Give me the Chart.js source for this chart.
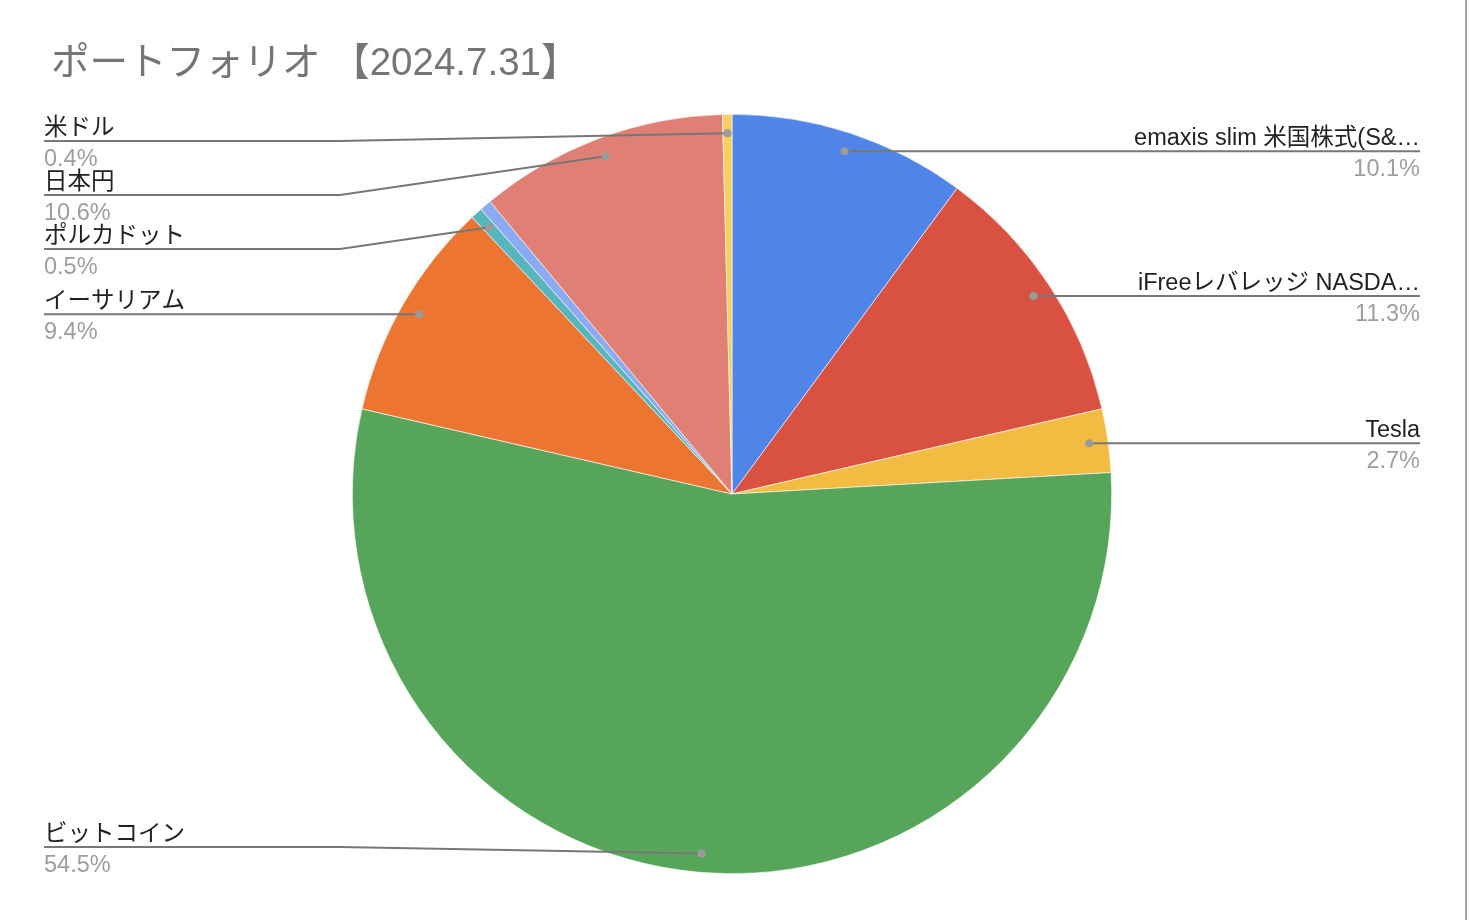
<!DOCTYPE html>
<html>
<head>
<meta charset="utf-8">
<script src="https://cdn.jsdelivr.net/npm/chart.js@4.4.1/dist/chart.umd.min.js"></script>
<style>
    html, body { margin: 0; padding: 0; background: #fff; }
    #wrap { position: relative; width: 1470px; height: 920px; overflow: hidden; }
    #edge { position: absolute; left: 1465px; top: 0; width: 2px; height: 920px; background: #a3a3a3; }
</style>
</head>
<body>
<div id="wrap">
    <canvas id="pieChart" width="1470" height="920" style="width:1470px;height:920px"></canvas>
    <div id="edge"></div>
</div>
<script>
// portfolio shares (%), clockwise from 12 o'clock
const chartTitle = "ポートフォリオ 【2024.7.31】";
const assetNames = [
    "emaxis slim 米国株式(S&…",
    "iFreeレバレッジ NASDA…",
    "Tesla",
    "ビットコイン",
    "イーサリアム",
    "ポルカドット",
    "",          // tiny unlabeled slice
    "日本円",
    "米ドル"
];
const assetShares = [10.1, 11.3, 2.7, 54.5, 9.4, 0.5, 0.5, 10.6, 0.4];
const sliceColors = [
    "#4F84E8",
    "#D95141",
    "#F2BC42",
    "#57A55B",
    "#ED7532",
    "#56B6BC",
    "#8AABF2",
    "#E07F73",
    "#F6CF5E"
];

const FONT = '"Liberation Sans", "Noto Sans CJK JP", sans-serif';

//plugin : title + google-sheets style labels with leader lines
const sideLabels = {
    id: 'sideLabels',
    afterDraw(chart) {
        const ctx = chart.ctx;
        const meta = chart.getDatasetMeta(0);
        const data = chart.data.datasets[0].data;
        const total = data.reduce((a, b) => a + b, 0);

        ctx.save();

        // title
        ctx.fillStyle = "#757575";
        ctx.font = "38.5px " + FONT;
        ctx.textAlign = "left";
        ctx.textBaseline = "alphabetic";
        ctx.fillText(chartTitle, 51, 75);

        const items = [];
        meta.data.forEach((arc, i) => {
            if (!chart.data.labels[i]) return;
            const p = arc.getProps(['x', 'y', 'startAngle', 'endAngle', 'outerRadius'], true);
            const mid = (p.startAngle + p.endAngle) / 2;
            const r = p.outerRadius * 0.95;
            items.push({
                name: chart.data.labels[i],
                pct: (data[i] / total * 100).toFixed(1) + "%",
                dx: p.x + Math.cos(mid) * r,
                dy: p.y + Math.sin(mid) * r,
                left: p.x + Math.cos(mid) * r < p.x
            });
        });

        //stack labels on each side so they dont overlap
        const place = (list) => {
            list.sort((a, b) => a.dy - b.dy);
            let prev = -1e9;
            list.forEach(it => {
                let y = Math.max(it.dy, 141, prev + 54);
                y = Math.min(y, 847);
                it.ly = y;
                prev = y;
            });
        };
        const leftItems = items.filter(it => it.left);
        const rightItems = items.filter(it => !it.left);
        place(leftItems);
        place(rightItems);

        const drawItem = (it) => {
            const x0 = it.left ? 44 : 1420;
            const elbow = it.left ? 340 : 1120;

            ctx.strokeStyle = "#777777";
            ctx.lineWidth = 2;
            ctx.beginPath();
            ctx.moveTo(x0, it.ly);
            if (Math.abs(it.ly - it.dy) > 0.5) {
                ctx.lineTo(elbow, it.ly);
            }
            ctx.lineTo(it.dx, it.dy);
            ctx.stroke();

            ctx.fillStyle = "#9a9a9a";
            ctx.beginPath();
            ctx.arc(it.dx, it.dy, 4, 0, Math.PI * 2);
            ctx.fill();

            ctx.textAlign = it.left ? "left" : "right";
            ctx.font = "23.5px " + FONT;
            ctx.fillStyle = "#222222";
            ctx.fillText(it.name, x0, it.ly - 6);
            ctx.fillStyle = "#9e9e9e";
            ctx.fillText(it.pct, x0, it.ly + 25);
        };
        leftItems.forEach(drawItem);
        rightItems.forEach(drawItem);

        ctx.restore();
    }
};

const ctx = document.getElementById('pieChart').getContext('2d');

new Chart(ctx, {
    type: 'pie',
    data: {
        labels: assetNames,
        datasets: [{
            data: assetShares,
            backgroundColor: sliceColors,
            borderColor: "#ffffff",
            borderWidth: 0.6
        }]
    },
    options: {
        responsive: false,
        animation: false,
        layout: {
            padding: { left: 352, right: 358, top: 114, bottom: 46 }
        },
        plugins: {
            legend: { display: false },
            tooltip: { enabled: false },
            title: { display: false }
        }
    },
    plugins: [sideLabels]
});
</script>
</body>
</html>
